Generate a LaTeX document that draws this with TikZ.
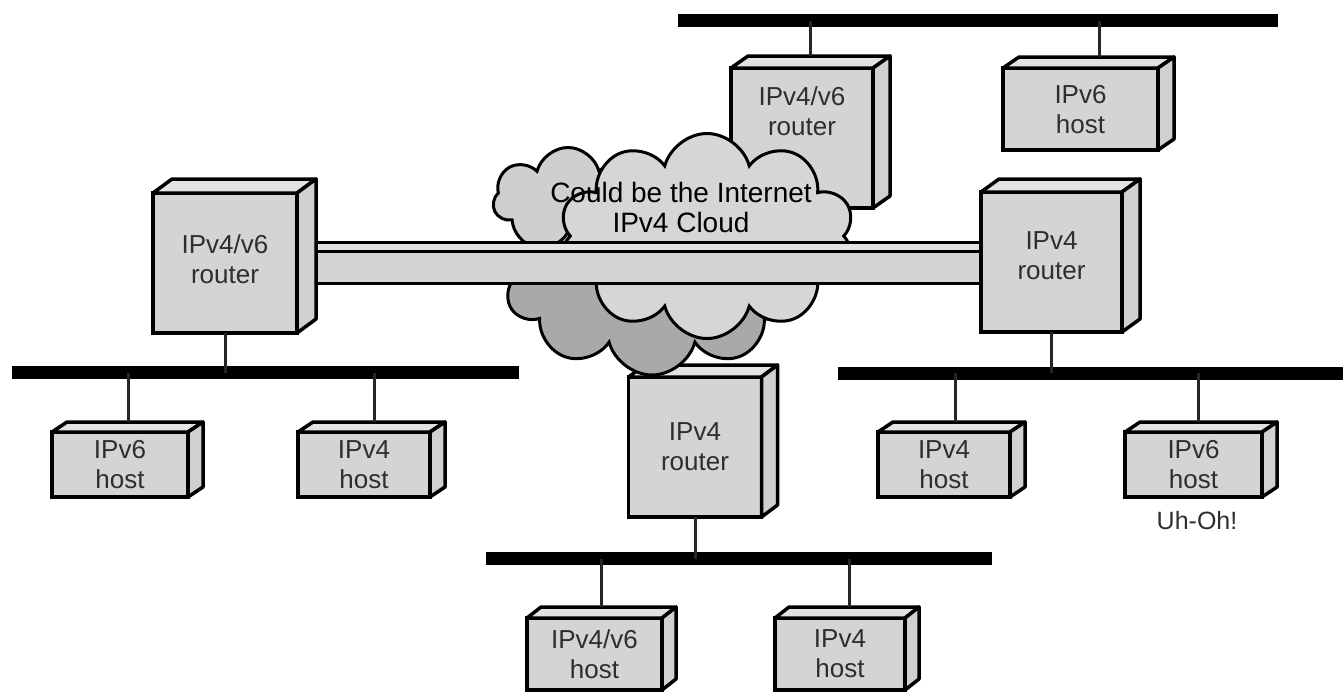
\documentclass[tikz,border=0pt]{standalone}
\usepackage{fontspec}
\setmainfont{Liberation Sans}
\usetikzlibrary{shapes.symbols}
\definecolor{facefront}{HTML}{D4D4D4}
\definecolor{facetop}{HTML}{E2E2E2}
\definecolor{faceside}{HTML}{D0D0D0}
\definecolor{cloudfront}{HTML}{D6D6D6}
\definecolor{cloudmid}{HTML}{CFCFCF}
\definecolor{cloudback}{HTML}{A9A9A9}
\definecolor{labelgray}{HTML}{2E2E2E}

\tikzset{
  devfront/.style={draw, line width=3.5pt, fill=facefront, inner sep=0pt, outer sep=0pt},
  devtop/.style={draw, line width=3.5pt, fill=facetop, line join=round},
  devside/.style={draw, line width=3.5pt, fill=faceside, line join=round},
  devtext/.style={align=center, inner sep=0pt, text=labelgray, font=\fontsize{26}{30}\selectfont},
  bus/.style={fill=black, inner sep=0pt, outer sep=0pt, minimum height=13pt},
  wire/.style={line width=3pt, black!85},
  puff/.style={cloud, cloud ignores aspect, draw, line width=3pt, inner sep=0pt},
  pipeline/.style={line width=3pt},
}

% #1 name, #2 cx, #3 cy, #4 width, #5 height, #6 depth x, #7 depth up
\newcommand\devbox[7]{%
  \node[devfront, minimum width=#4pt, minimum height=#5pt] (#1) at (#2,#3) {};
  \draw[devtop] (#1.north west) -- ++(#6pt,#7pt) -- ([shift={(#6pt,#7pt)}]#1.north east) -- (#1.north east) -- cycle;
  \draw[devside] (#1.north east) -- ++(#6pt,#7pt) -- ([shift={(#6pt,#7pt)}]#1.south east) -- (#1.south east) -- cycle;
}

\begin{document}
\begin{tikzpicture}[x=1pt, y=-1pt]
\useasboundingbox (0,0) rectangle (1343,697);

% Ethernet segments
\node[bus, minimum width=600pt] (busTop) at (978,20.5) {};
\node[bus, minimum width=507pt] (busLeft) at (265.5,372.5) {};
\node[bus, minimum width=505pt] (busRight) at (1090.5,373) {};
\node[bus, minimum width=506pt] (busBottom) at (739,558.5) {};

% devices behind the cloud
\devbox{rTop}{802}{138}{142}{140}{17}{12}
\node[devtext] (rTopT) at ([yshift=27pt]rTop.center) {IPv4/v6\\router};
\devbox{hTop6}{1080.5}{109}{155}{82}{16}{11}
\node[devtext] (hTop6T) at ([yshift=-1pt]hTop6.center) {IPv6\\host};
\devbox{rMid}{695}{447}{133}{140}{16}{12}
\node[devtext] (rMidT) at (rMid.center) {IPv4\\router};

% the IPv4 cloud
\node[puff, fill=cloudback, cloud puffs=10, minimum width=295pt, minimum height=190pt] (cloudBack) at (652,280) {};
\node[puff, fill=cloudmid, cloud puffs=7, minimum width=150pt, minimum height=105pt] (cloudLeft) at (568,200) {};
\node[puff, fill=cloudfront, cloud puffs=10, minimum width=295pt, minimum height=205pt] (cloudFront) at (707,236) {};
\node[align=center, inner sep=0pt, font=\fontsize{28}{30}\selectfont] (cloudT) at (681,207) {Could be the Internet\\IPv4 Cloud};

% tunnel between the dual-stack and IPv4 routers
\fill[facefront] (300,242) rectangle (990,283);
\fill[facetop] (300,242) rectangle (990,251);
\draw[pipeline] (300,242) -- (990,242);
\draw[pipeline] (300,251) -- (990,251);
\draw[pipeline] (300,283) -- (990,283);

% routers
\devbox{rLeft}{225}{263}{144}{140}{19}{14}
\node[devtext] (rLeftT) at ([yshift=4pt]rLeft.center) {IPv4/v6\\router};
\devbox{rRight}{1051.5}{262}{141}{140}{18}{13}
\node[devtext] (rRightT) at ([yshift=6pt]rRight.center) {IPv4\\router};

% hosts
\devbox{hL6}{120}{464.5}{136}{65}{15}{10}
\node[devtext] (hL6T) at (hL6.center) {IPv6\\host};
\devbox{hL4}{364}{464.5}{132}{65}{15}{10}
\node[devtext] (hL4T) at (hL4.center) {IPv4\\host};
\devbox{hR4}{944}{464.5}{132}{65}{15}{10}
\node[devtext] (hR4T) at (hR4.center) {IPv4\\host};
\devbox{hR6}{1193.5}{464.5}{137}{65}{15}{10}
\node[devtext] (hR6T) at (hR6.center) {IPv6\\host};
\devbox{hB46}{594.5}{654}{135}{72}{14}{11}
\node[devtext] (hB46T) at (hB46.center) {IPv4/v6\\host};
\devbox{hB4}{840}{654}{130}{72}{14}{11}
\node[devtext] (hB4T) at (hB4.center) {IPv4\\host};

\node[devtext, font=\fontsize{25}{28}\selectfont] (uhoh) at (1197,521) {Uh-Oh!};

% drops from the segments to the devices
\coordinate (rTopTap) at ([shift={(8pt,12pt)}]rTop.north);
\draw[wire] (rTopTap) -- (rTopTap |- busTop.center);
\coordinate (hTop6Tap) at ([shift={(19pt,11pt)}]hTop6.north);
\draw[wire] (hTop6Tap) -- (hTop6Tap |- busTop.center);
\draw[wire] (rLeft.south) -- (rLeft.south |- busLeft.center);
\draw[wire] (rRight.south) -- (rRight.south |- busRight.center);
\draw[wire] (rMid.south) -- (rMid.south |- busBottom.center);
\coordinate (hL6Tap) at ([shift={(8pt,10pt)}]hL6.north);
\draw[wire] (hL6Tap) -- (hL6Tap |- busLeft.center);
\coordinate (hL4Tap) at ([shift={(10pt,10pt)}]hL4.north);
\draw[wire] (hL4Tap) -- (hL4Tap |- busLeft.center);
\coordinate (hR4Tap) at ([shift={(11pt,10pt)}]hR4.north);
\draw[wire] (hR4Tap) -- (hR4Tap |- busRight.center);
\coordinate (hR6Tap) at ([shift={(5pt,10pt)}]hR6.north);
\draw[wire] (hR6Tap) -- (hR6Tap |- busRight.center);
\coordinate (hB46Tap) at ([shift={(7pt,11pt)}]hB46.north);
\draw[wire] (hB46Tap) -- (hB46Tap |- busBottom.center);
\coordinate (hB4Tap) at ([shift={(9pt,11pt)}]hB4.north);
\draw[wire] (hB4Tap) -- (hB4Tap |- busBottom.center);
\end{tikzpicture}
\end{document}
